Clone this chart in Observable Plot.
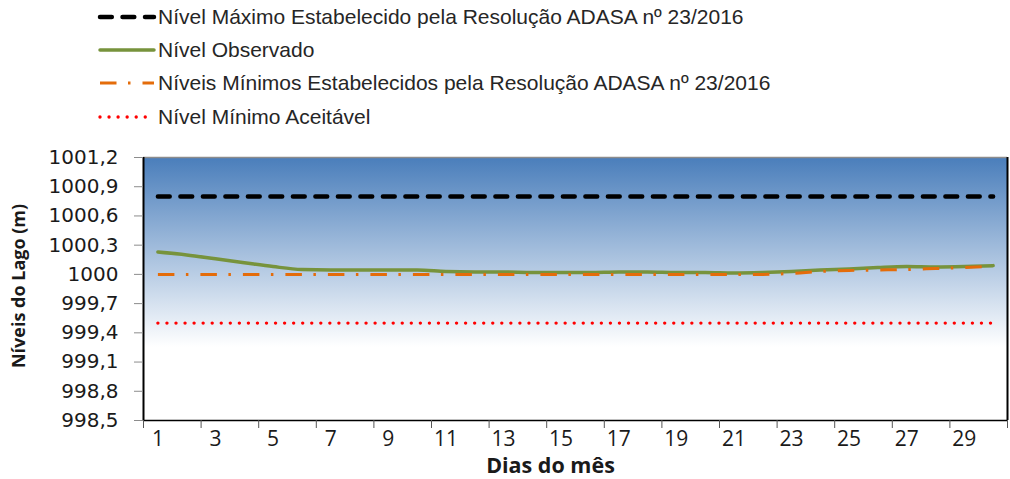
<!DOCTYPE html>
<html>
<head>
<meta charset="utf-8">
<script src="https://cdn.jsdelivr.net/npm/d3@7"></script>
<script src="https://cdn.jsdelivr.net/npm/@observablehq/plot@0.6"></script>
<style>
  html, body { margin: 0; padding: 0; background: #fff; }
  #chart svg { display: block; }
</style>
</head>
<body>
<div id="chart"></div>
<script>
// ---- data ----
const days = [1,2,3,4,5,6,7,8,9,10,11,12,13,14,15,16,17,18,19,20,21,22,23,24,25,26,27,28,29,30];
const dayLabels = [1,3,5,7,9,11,13,15,17,19,21,23,25,27,29];
const observed = [1000.23,1000.20,1000.16,1000.12,1000.08,1000.05,1000.045,1000.045,1000.045,1000.045,
                  1000.03,1000.025,1000.025,1000.02,1000.02,1000.02,1000.025,1000.025,1000.02,1000.02,
                  1000.015,1000.02,1000.03,1000.045,1000.055,1000.07,1000.08,1000.075,1000.08,1000.09];
const minimos = [1000,1000,1000,1000,1000,1000,1000,1000,1000,1000,
                 1000,1000,1000,1000,1000,1000,1000,1000,1000,1000,
                 1000,1000,1000.01,1000.03,1000.04,1000.045,1000.05,1000.06,1000.07,1000.085];
const maxLevel = 1000.8;
const minAcceptable = 999.5;
const yTicks = [998.5,998.8,999.1,999.4,999.7,1000,1000.3,1000.6,1000.9,1001.2];
const yTickLabels = ["998,5","998,8","999,1","999,4","999,7","1000","1000,3","1000,6","1000,9","1001,2"];
const seriesNames = [
  "Nível Máximo Estabelecido pela Resolução ADASA nº 23/2016",
  "Nível Observado",
  "Níveis Mínimos Estabelecidos pela Resolução ADASA nº 23/2016",
  "Nível Mínimo Aceitável"
];
const yLabel = "Níveis do Lago (m)";
const xLabel = "Dias do mês";

// ---- styles ----
const styles = [
  {stroke: "#000000", width: 4.5, dash: "11.8,10.7", cap: "round"},
  {stroke: "#77933C", width: 3.5, dash: null, cap: "round"},
  {stroke: "#E46C0A", width: 3, dash: "16.5,11.5,2.5,12", cap: "butt"},
  {stroke: "#FF0000", width: 3.4, dash: "0,9.05", cap: "round"}
];

const obsData = days.map((d, i) => ({day: d, v: observed[i]}));
const minData = days.map((d, i) => ({day: d, v: minimos[i]}));
const maxData = days.map(d => ({day: d, v: maxLevel}));
const accData = days.map(d => ({day: d, v: minAcceptable}));
const bounds = days.filter((d, i) => i % 2 === 0).map(d => d - 0.5).concat([days[days.length - 1] + 0.5]);

const W = 1010, H = 479;
const lineOpts = (s) => ({x: "day", y: "v", stroke: s.stroke, strokeWidth: s.width,
  strokeDasharray: s.dash || undefined, strokeLinecap: s.cap, strokeLinejoin: "round", curve: "monotone-x"});

const plot = Plot.plot({
  width: W, height: H,
  marginLeft: 143, marginRight: 3, marginTop: 157, marginBottom: 59,
  x: {domain: [0.5, 30.5]},
  y: {domain: [998.5, 1001.2]},
  style: {background: "transparent", overflow: "visible"},
  marks: [
    Plot.frame({fill: "url(#bgGrad)", stroke: "none"}),
    Plot.ruleY([1001.2], {stroke: "#8c8c8c", strokeWidth: 1.5}),
    Plot.ruleY([998.5], {stroke: "#000", strokeWidth: 1.5}),
    Plot.ruleX([0.5, 30.5], {stroke: "#000", strokeWidth: 2}),
    Plot.ruleX(bounds, {x: d => d, y1: 998.5, y2: 998.5, insetBottom: -8, stroke: "#555", strokeWidth: 1}),
    Plot.axisY({ticks: yTicks, tickFormat: d => yTickLabels[yTicks.indexOf(d)], tickSize: 9, tickPadding: 16,
      stroke: "#8c8c8c", fill: "#1a1a1a", fontSize: 20, fontFamily: "'DejaVu Sans', Verdana, sans-serif", label: null}),
    Plot.axisX({ticks: dayLabels, tickSize: 0, tickPadding: 11, fill: "#1a1a1a", fontSize: 21,
      fontFamily: "'Open Sans', sans-serif", label: null}),
    Plot.line(accData, lineOpts(styles[3])),
    Plot.line(maxData, lineOpts(styles[0])),
    Plot.line(obsData, lineOpts(styles[1])),
    Plot.line(minData, lineOpts(styles[2])),
    Plot.text([yLabel], {frameAnchor: "left", dx: -124, dy: -3, rotate: -90, textAnchor: "middle", lineAnchor: "middle",
      fontSize: 18, fontWeight: "bold", fontFamily: "'Open Sans', sans-serif", fill: "#1a1a1a"}),
    Plot.text([xLabel], {frameAnchor: "bottom", dx: -25, dy: 46, textAnchor: "middle", lineAnchor: "middle",
      fontSize: 21.5, fontWeight: "bold", fontFamily: "'Open Sans', sans-serif", fill: "#1a1a1a"})
  ]
});

// gradient definition
const svg = d3.select(plot);
const defs = svg.insert("defs", ":first-child");
const grad = defs.append("linearGradient").attr("id", "bgGrad")
  .attr("x1", 0).attr("y1", 0).attr("x2", 0).attr("y2", 1);
grad.append("stop").attr("offset", "0%").attr("stop-color", "#4a7ebb");
grad.append("stop").attr("offset", "72%").attr("stop-color", "#ffffff");
grad.append("stop").attr("offset", "100%").attr("stop-color", "#ffffff");

// legend
const legendRows = [17, 50, 83, 117];
const lg = svg.append("g").attr("class", "legend").attr("text-anchor", "start");
seriesNames.forEach((name, i) => {
  const s = styles[i];
  const g = lg.append("g").attr("transform", `translate(100,${legendRows[i]})`);
  g.append("line").attr("x1", 0).attr("x2", 54).attr("y1", 0).attr("y2", 0)
    .attr("stroke", s.stroke).attr("stroke-width", s.width)
    .attr("stroke-dasharray", s.dash).attr("stroke-linecap", s.cap);
  g.append("text").attr("x", 58).attr("y", 0).attr("dy", "0.35em").attr("text-anchor", "start")
    .attr("font-family", "'Liberation Sans', Arial, sans-serif").attr("font-size", 21)
    .attr("fill", "#262626").text(name);
});

document.getElementById("chart").appendChild(plot);
</script>
</body>
</html>
